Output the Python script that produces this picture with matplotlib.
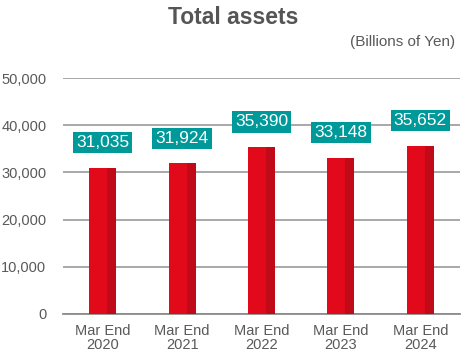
import matplotlib
import matplotlib.pyplot as plt

matplotlib.use("Agg", force=True)

plt.rcParams["font.family"] = ["Liberation Sans", "DejaVu Sans"]

categories = ["Mar End\n2020", "Mar End\n2021", "Mar End\n2022", "Mar End\n2023", "Mar End\n2024"]
total_assets = [31035, 31924, 35390, 33148, 35652]
y_ticks = [0, 10000, 20000, 30000, 40000, 50000]

FRONT = "#e20a1a"
SIDE = "#c10a18"
TEAL = "#00999a"
TEXT_GRAY = "#595959"

fig = plt.figure(figsize=(4.71, 3.62), dpi=100)
ax = fig.add_axes([0.1338, 0.1326, 0.8429, 0.6519])

positions = list(range(len(categories)))
face_w = 0.227
side_w = 0.113
left = [p - (face_w + side_w) / 2 for p in positions]
ax.bar(left, total_assets, width=face_w, align="edge", color=FRONT, zorder=3)
ax.bar([l + face_w for l in left], total_assets, width=side_w, align="edge", color=SIDE, zorder=3)

for p, v in zip(positions, total_assets):
    ax.annotate(f"{v:,}", xy=(p, v), xytext=(0, 18), textcoords="offset points",
                ha="center", va="center", fontsize=12.5, color="white", zorder=5,
                bbox=dict(boxstyle="square,pad=0.18", fc=TEAL, ec="none"))

ax.set_xlim(-0.5, len(categories) - 0.5)
ax.set_ylim(0, 50000)
ax.set_yticks(y_ticks)
ax.set_yticklabels([f"{t:,}" for t in y_ticks])
ax.set_xticks(positions)
ax.set_xticklabels(categories, linespacing=1.05)
ax.tick_params(axis="both", length=0, labelsize=10.5, colors=TEXT_GRAY)
ax.tick_params(axis="x", pad=7)
ax.tick_params(axis="y", pad=12)

ax.yaxis.grid(True, color="#9a9a9a", linewidth=1.2, zorder=0)
ax.set_axisbelow(True)
for side in ["top", "right", "left"]:
    ax.spines[side].set_visible(False)
ax.spines["bottom"].set_color("#8c8c8c")
ax.spines["bottom"].set_linewidth(1.3)

fig.text(0.495, 0.952, "Total assets", ha="center", va="center",
         fontsize=16.5, fontweight="bold", color="#555555")
fig.text(0.966, 0.884, "(Billions of Yen)", ha="right", va="center",
         fontsize=11, color=TEXT_GRAY)

fig.savefig("out.png", dpi=100)
